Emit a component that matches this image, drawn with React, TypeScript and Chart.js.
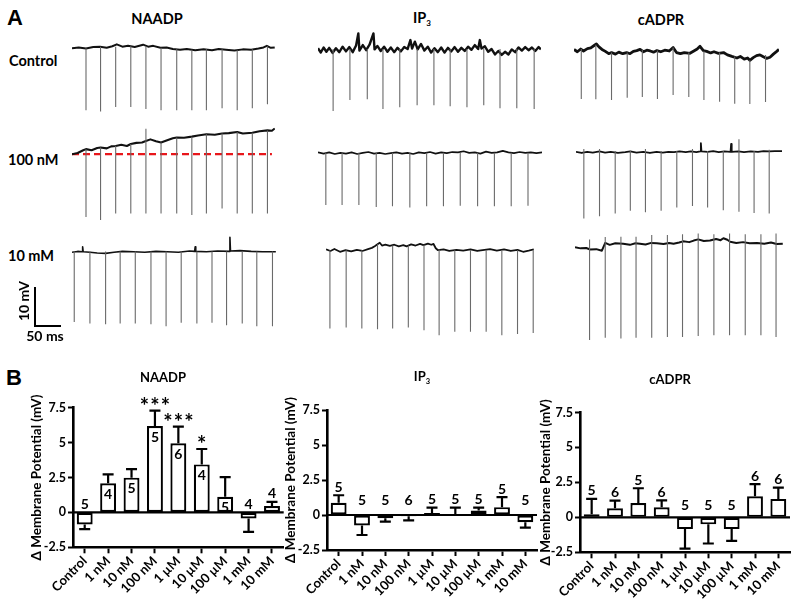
import React, { useEffect, useRef } from 'react';
import { Chart, registerables } from 'chart.js';

Chart.register(...registerables);

const FONT = 'Lato, "Open Sans", sans-serif';

// ---------------- Panel B data ----------------
const DOSES = ['Control', '1 nM', '10 nM', '100 nM', '1 µM', '10 µM', '100 µM', '1 mM', '10 mM'];
const Y_TICKS = [-2.5, 0, 2.5, 5, 7.5];

const NAADP_MEAN = [-0.86, 2.08, 2.49, 6.19, 4.95, 3.44, 1.12, -0.43, 0.45];
const NAADP_SEM = [0.34, 0.64, 0.61, 1.1, 1.19, 1.1, 1.41, 0.96, 0.3];
const NAADP_N = [5, 4, 5, 5, 6, 4, 5, 4, 4];
const NAADP_SIG = ['', '', '', '***', '***', '*', '', '', ''];

const IP3_MEAN = [0.87, -0.75, -0.24, -0.09, 0.14, 0.07, 0.33, 0.56, -0.52];
const IP3_SEM = [0.54, 0.68, 0.23, 0.29, 0.38, 0.45, 0.19, 0.71, 0.38];
const IP3_N = [5, 5, 5, 6, 5, 5, 5, 5, 5];

const CADPR_MEAN = [0.22, 0.65, 1.03, 0.72, -0.84, -0.5, -0.84, 1.51, 1.32];
const CADPR_SEM = [1.1, 0.55, 1.05, 0.5, 1.39, 1.37, 0.84, 0.86, 0.81];
const CADPR_N = [5, 6, 5, 6, 5, 5, 5, 6, 6];

// ---------------- Panel A data (time in ms, potential in mV) ----------------
// baseline: [t, mV]; spikes: [t, top mV, bottom mV]
const NAADP_CTRL_BASE = [[0,0],[12,0.2],[25,-0.1],[38,0.3],[50,0.4],[62,0.1],[72,0.5],[80,1.0],[90,0.4],[100,0.6],[112,0.3],[127,0.9],[136,0.4],[145,0.6],[158,0.1],[169,0.2],[180,-0.2],[193,-0.4],[205,-0.2],[220,-0.5],[235,-0.3],[250,-0.5],[262,-0.2],[275,-0.4],[290,-0.6],[305,-0.3],[320,-0.4],[333,-0.1],[342,0.2],[348,0.6],[355,0.1],[362,0.2]];
const NAADP_CTRL_SPIKES = [[25,0,-15.9],[51,0.4,-16.2],[78,0.4,-15.1],[105,0.5,-15.1],[132,0.5,-15.6],[159,0.1,-15.9],[187,-0.3,-15.9],[214,-0.4,-15.9],[240,-0.3,-15.9],[268,-0.3,-15.4],[295,-0.5,-15.9],[322,-0.3,-15.4],[349,0.5,-14.4]];

const NAADP_100N_BASE = [[0,0],[10,0.3],[20,1.0],[25,1.3],[35,1.0],[45,1.6],[51,1.7],[62,1.5],[70,2.0],[78,2.1],[88,2.4],[98,2.1],[105,2.6],[115,2.9],[125,3.0],[132,3.4],[140,3.8],[150,3.3],[159,3.0],[170,3.6],[180,4.1],[187,4.3],[200,4.2],[214,4.5],[225,4.8],[240,5.1],[255,5.0],[268,5.3],[280,5.4],[295,5.7],[305,5.3],[322,5.5],[335,5.9],[349,6.1],[357,6.0],[362,6.6]];
const NAADP_100N_SPIKES = [[25,1.3,-16.1],[51,1.7,-16.9],[78,2.1,-15.2],[105,2.6,-15.2],[132,6.5,-15.2],[159,3.0,-15.2],[187,4.3,-15.2],[214,4.5,-15.6],[240,5.1,-15.2],[268,5.3,-13.9],[295,5.7,-15.2],[322,5.5,-15.2],[349,6.1,-15.2]];
const NAADP_100N_REF_T = [0, 357];
const NAADP_100N_REF_V = [0, 0];

const NAADP_10M_BASE = [[0,0],[10,0.2],[18,0.1],[19,1.4],[20,0.1],[32,0.0],[45,-0.2],[60,-0.3],[75,0.0],[90,0.2],[110,0.1],[130,0.0],[150,0.2],[170,0.1],[190,0.0],[210,0.3],[219,0.2],[220,1.4],[221,0.2],[240,0.1],[260,0.3],[281,0.2],[282,3.8],[283,0.3],[300,0.4],[320,0.2],[340,0.1],[364,0.1]];
const NAADP_10M_SPIKES = [[4,0.2,-17.9],[32,0.2,-18.3],[60,0.2,-18.5],[86,0.2,-18.3],[113,0.2,-18.3],[141,0.2,-18.5],[168,0.2,-19.0],[195,0.2,-18.1],[223,0.2,-18.3],[250,0.2,-18.1],[276,0.2,-18.7],[304,0.2,-18.3],[330,0.2,-19.0],[358,0.2,-19.0]];

const IP3_CTRL_BASE = [[0,0.5],[5,-0.6],[10,0.7],[15,-0.4],[20,0.6],[26,-0.7],[32,0.5],[38,-0.5],[44,0.9],[50,-0.3],[56,0.8],[62,-0.5],[68,1.2],[72,4.3],[74,-0.1],[80,1.3],[86,0.0],[92,1.4],[99,4.3],[101,0.2],[106,1.1],[112,-0.2],[118,0.9],[124,-0.4],[130,0.7],[136,-0.5],[142,0.6],[148,-0.3],[154,0.8],[160,0.3],[165,2.6],[168,0.4],[173,2.2],[178,0.2],[184,1.6],[190,-0.1],[196,0.9],[202,-0.6],[208,0.5],[214,-0.5],[220,0.7],[226,-0.6],[232,0.6],[238,-0.3],[244,0.8],[250,-0.4],[256,0.6],[262,-0.2],[268,0.9],[274,0.1],[280,1.3],[286,0.3],[289,2.6],[292,0.4],[298,1.0],[304,-0.4],[310,0.3],[316,-1.1],[322,-0.2],[328,-1.2],[334,-0.4],[340,-1.1],[346,0.2],[352,-0.5],[358,0.7],[364,-0.1],[370,0.8],[376,0.0],[382,0.7],[388,-0.2],[394,0.8],[398,0.2]];
const IP3_CTRL_SPIKES = [[27,0.3,-15.6],[57,0.3,-12.8],[88,0.3,-12.6],[116,0.3,-15.1],[146,0.3,-14.6],[177,0.3,-14.1],[207,0.3,-14.1],[236,0.3,-14.4],[266,0.3,-14.6],[296,0.3,-14.1],[325,0.3,-14.9],[355,0.3,-14.9],[386,0.3,-15.1]];

const IP3_100N_BASE = [[0,0.2],[10,-0.1],[20,0.2],[30,-0.2],[40,0.1],[50,-0.1],[60,0.2],[70,-0.2],[80,0.1],[90,0.3],[100,-0.1],[110,0.1],[120,-0.2],[130,0.0],[140,0.2],[150,-0.1],[160,0.1],[170,-0.2],[180,0.2],[190,0.0],[200,0.3],[210,-0.1],[220,0.2],[230,0.0],[240,0.3],[250,0.2],[260,0.5],[270,0.1],[280,0.2],[290,-0.1],[300,0.4],[310,0.1],[320,0.2],[330,0.6],[340,0.2],[350,0.0],[360,0.3],[370,0.1],[380,0.2],[390,0.0],[400,0.2]];
const IP3_100N_SPIKES = [[14,0.1,-13.3],[43,0.1,-13.3],[73,0.1,-13.3],[104,0.1,-13.8],[133,0.1,-13.6],[164,0.1,-13.9],[194,0.1,-13.6],[224,0.1,-13.6],[254,0.1,-13.5],[285,0.1,-13.6],[315,0.1,-13.6],[345,0.1,-13.6],[375,0.1,-13.5]];

const IP3_10M_BASE = [[0,0.2],[8,-0.2],[15,0.3],[25,-0.4],[35,0.0],[45,-0.3],[55,0.1],[65,-0.2],[75,0.3],[82,0.6],[87,1.0],[92,1.5],[96,1.9],[100,1.2],[106,1.4],[114,1.1],[122,1.4],[130,1.0],[138,1.3],[144,1.0],[152,1.5],[160,1.2],[168,1.6],[174,1.3],[182,1.7],[188,1.4],[192,1.6],[196,0.5],[200,0.0],[210,0.2],[220,-0.2],[233,0.1],[245,-0.1],[258,0.2],[270,-0.2],[283,0.1],[293,0.3],[305,-0.1],[318,0.2],[330,-0.2],[342,0.1],[352,-0.4],[362,-0.1],[371,0.2]];
const IP3_10M_SPIKES = [[7,0.0,-20.1],[36,0.0,-19.8],[64,0.0,-20.1],[92,1.5,-20.3],[119,1.2,-20.1],[147,1.2,-19.8],[175,1.4,-20.5],[202,0.2,-21.8],[230,0.0,-20.9],[258,0.0,-20.9],[286,0.0,-20.9],[314,0.0,-21.8],[342,0.0,-21.5],[370,0.0,-21.2]];

const CADPR_CTRL_BASE = [[0,0.2],[6,-0.4],[12,0.3],[17,-0.2],[24,0.4],[30,0.6],[36,1.2],[40,1.6],[45,0.8],[50,0.2],[56,-0.3],[62,-0.9],[67,-0.6],[74,-1.0],[80,-0.5],[87,-0.9],[94,-0.6],[100,-0.9],[106,-0.3],[112,-0.1],[118,0.2],[124,-0.4],[130,0.0],[136,-0.2],[142,-0.5],[148,-0.1],[155,-0.4],[162,0.0],[170,-0.2],[177,0.7],[183,-0.6],[190,-0.9],[197,-0.6],[207,-0.8],[214,-0.2],[220,0.3],[225,1.0],[231,-0.1],[237,-0.3],[244,-0.7],[250,-0.4],[258,-0.8],[267,-0.6],[274,-1.2],[282,-1.6],[291,-2.0],[297,-1.6],[304,-2.3],[310,-2.0],[314,-2.6],[320,-1.9],[326,-1.4],[332,-1.2],[338,-1.7],[344,-2.1],[350,-1.8],[356,-1.0],[362,-0.3],[366,0.2]];
const CADPR_CTRL_SPIKES = [[13,0.3,-12.5],[39,1.4,-12.6],[67,-0.6,-12.8],[95,-0.6,-12.2],[122,0.2,-12.0],[149,-0.1,-12.5],[177,0.7,-11.5],[205,-0.6,-12.0],[232,-0.3,-12.8],[260,-0.6,-13.2],[287,-1.6,-13.7],[314,-2.6,-13.8],[342,-1.2,-13.3]];

const CADPR_100N_BASE = [[0,0.1],[10,-0.2],[20,0.1],[30,-0.1],[42,0.2],[52,-0.1],[62,0.1],[75,-0.2],[88,0.0],[97,0.2],[108,-0.1],[120,0.1],[132,-0.2],[144,0.1],[155,-0.1],[165,0.1],[175,0.0],[185,0.2],[196,0.0],[205,0.2],[215,0.0],[222,0.2],[223,2.3],[224,0.2],[235,0.1],[245,0.3],[255,0.0],[265,0.2],[276,0.1],[277,2.1],[278,0.1],[290,0.2],[300,0.0],[312,0.2],[325,0.1],[335,0.3],[345,0.2],[355,0.3],[368,0.3]];
const CADPR_100N_SPIKES = [[14,0.8,-17.0],[42,0.8,-16.4],[70,0.3,-15.7],[97,0.3,-15.0],[124,0.8,-15.4],[152,0.3,-15.0],[180,0.3,-14.2],[208,0.8,-13.8],[235,0.3,-14.2],[263,0.3,-14.9],[291,3.3,-15.3],[318,0.3,-15.6],[345,0.6,-15.7]];

const CADPR_10M_BASE = [[0,0.0],[10,-0.3],[20,-0.2],[27,-0.6],[38,-0.5],[48,-0.9],[54,1.1],[62,0.6],[72,1.0],[86,0.9],[98,0.6],[108,1.0],[116,0.9],[126,0.7],[136,1.1],[146,1.0],[158,0.8],[168,1.1],[176,0.9],[186,1.2],[193,1.5],[204,1.3],[212,1.7],[220,2.0],[230,1.6],[241,1.7],[252,2.1],[260,1.8],[265,2.3],[272,1.9],[277,1.4],[288,1.1],[300,1.3],[312,1.0],[325,1.1],[338,0.9],[350,1.2],[360,0.8],[371,0.9]];
const CADPR_10M_SPIKES = [[26,2.0,-23.8],[54,2.6,-23.2],[82,2.7,-23.4],[109,2.7,-23.2],[137,3.1,-23.2],[165,3.1,-23.0],[192,3.3,-23.0],[220,3.5,-22.8],[248,3.3,-22.6],[276,3.5,-22.6],[304,3.3,-22.6],[332,3.3,-22.6],[359,3.5,-23.0]];

// ---------------- layout (pixels) ----------------
const PX_PER_MS = 0.56;
const PX_PER_MV = 3.9;
const Y_MAX_MV = 8;
const TRACE_H = 134;
const PADX = 4;

type TraceSpec = { base: number[][]; spikes: number[][]; dur: number; x0: number; y0: number; lw: number; ref?: boolean };
const TRACES: TraceSpec[] = [
  { base: NAADP_CTRL_BASE, spikes: NAADP_CTRL_SPIKES, dur: 362, x0: 72, y0: 48, lw: 2 },
  { base: NAADP_100N_BASE, spikes: NAADP_100N_SPIKES, dur: 362, x0: 72, y0: 154, lw: 2.1, ref: true },
  { base: NAADP_10M_BASE, spikes: NAADP_10M_SPIKES, dur: 364, x0: 72, y0: 252, lw: 1.6 },
  { base: IP3_CTRL_BASE, spikes: IP3_CTRL_SPIKES, dur: 398, x0: 318, y0: 50, lw: 2.4 },
  { base: IP3_100N_BASE, spikes: IP3_100N_SPIKES, dur: 400, x0: 318, y0: 153, lw: 1.7 },
  { base: IP3_10M_BASE, spikes: IP3_10M_SPIKES, dur: 371, x0: 326, y0: 250, lw: 1.8 },
  { base: CADPR_CTRL_BASE, spikes: CADPR_CTRL_SPIKES, dur: 366, x0: 574, y0: 50, lw: 2.8 },
  { base: CADPR_100N_BASE, spikes: CADPR_100N_SPIKES, dur: 368, x0: 576, y0: 152, lw: 1.8 },
  { base: CADPR_10M_BASE, spikes: CADPR_10M_SPIKES, dur: 371, x0: 575, y0: 247, lw: 2 },
];

function TraceChart({ spec }: { spec: TraceSpec }) {
  const ref = useRef<HTMLCanvasElement>(null);
  const w = Math.round(spec.dur * PX_PER_MS) + 2 * PADX;
  const left = spec.x0 - PADX;
  const top = spec.y0 - Y_MAX_MV * PX_PER_MV;
  useEffect(() => {
    if (!ref.current) return;
    const spikeData: { x: number; y: number | null }[] = [];
    spec.spikes.forEach(([t, hi, lo]) => {
      spikeData.push({ x: t, y: hi }, { x: t, y: lo }, { x: t, y: null });
    });
    const baseData = spec.base.map(([t, v]) => ({ x: t, y: v }));
    const datasets: any[] = [
      { data: spikeData, showLine: true, borderColor: '#6a6a6a', borderWidth: 1.1, pointRadius: 0, spanGaps: false },
      { data: baseData, showLine: true, borderColor: '#111111', borderWidth: spec.lw, pointRadius: 0, borderJoinStyle: 'round' },
    ];
    if (spec.ref) {
      datasets.push({
        data: NAADP_100N_REF_T.map((t, i) => ({ x: t, y: NAADP_100N_REF_V[i] })),
        showLine: true, borderColor: '#e8161b', borderWidth: 2.2, borderDash: [7, 4], pointRadius: 0,
      });
    }
    const chart = new Chart(ref.current, {
      type: 'scatter',
      data: { datasets },
      options: {
        responsive: false,
        animation: false,
        events: [],
        layout: { padding: { left: PADX, right: PADX, top: 0, bottom: 0 } },
        plugins: { legend: { display: false }, tooltip: { enabled: false } },
        scales: {
          x: { type: 'linear', display: false, min: 0, max: (w - 2 * PADX) / PX_PER_MS },
          y: { type: 'linear', display: false, max: Y_MAX_MV, min: Y_MAX_MV - TRACE_H / PX_PER_MV },
        },
      } as any,
    });
    return () => chart.destroy();
  }, []);
  return (
    <canvas ref={ref} width={w} height={TRACE_H}
      style={{ position: 'absolute', left, top, width: w, height: TRACE_H }} />
  );
}

// ---------------- bar charts ----------------
const barAnno = {
  id: 'barAnno',
  afterDatasetsDraw(chart: any, _a: any, o: any) {
    const { ctx, chartArea: a, scales } = chart;
    const y = scales.y;
    const zero = y.getPixelForValue(0);
    ctx.save();
    ctx.strokeStyle = '#000';
    ctx.lineWidth = 2.2;
    ctx.beginPath();
    ctx.moveTo(a.left, zero);
    ctx.lineTo(a.right, zero);
    ctx.stroke();
    const meta = chart.getDatasetMeta(0);
    meta.data.forEach((bar: any, i: number) => {
      const v = o.mean[i];
      const dir = v < 0 ? -1 : 1;
      const yE = y.getPixelForValue(v + dir * o.sem[i]);
      const xc = bar.x;
      const yb = bar.y;
      ctx.lineWidth = 2.2;
      ctx.beginPath();
      ctx.moveTo(xc, yb);
      ctx.lineTo(xc, yE);
      ctx.moveTo(xc - 5.5, yE);
      ctx.lineTo(xc + 5.5, yE);
      ctx.stroke();
      ctx.fillStyle = '#000';
      ctx.font = `bold 14px ${FONT}`;
      ctx.textAlign = 'center';
      ctx.textBaseline = 'middle';
      let ly: number;
      if (o.inside && v > 1) ly = yb + 10;
      else ly = Math.min(zero - o.zeroGap, (v > 0 ? yE : zero) - 9);
      ctx.fillText(String(o.n[i]), xc, ly + 1);
      const s: string = o.sig ? o.sig[i] : '';
      if (s) {
        ctx.font = `bold 22px ${FONT}`;
        ctx.textBaseline = 'alphabetic';
        for (let k = 0; k < s.length; k++) {
          ctx.fillText('*', xc + (k - (s.length - 1) / 2) * 10.5, yE + 3);
        }
      }
    });
    ctx.restore();
  },
};

type BarSpec = {
  mean: number[]; sem: number[]; n: number[]; sig?: string[];
  left: number; width: number; yW: number; padR: number; padT: number; xH: number; titlePad: number;
  inside: boolean; zeroGap: number;
};

const CHART_TOP = 385;
const CHART_H = 224;

function BarChart({ spec }: { spec: BarSpec }) {
  const ref = useRef<HTMLCanvasElement>(null);
  useEffect(() => {
    if (!ref.current) return;
    const chart = new Chart(ref.current, {
      type: 'bar',
      data: {
        labels: DOSES,
        datasets: [{
          data: spec.mean,
          backgroundColor: '#ffffff',
          borderColor: '#000000',
          borderWidth: 2.2,
          borderSkipped: false,
          barPercentage: 0.68,
          categoryPercentage: 1,
        }],
      },
      options: {
        responsive: false,
        animation: false,
        events: [],
        layout: { padding: { left: 0, right: spec.padR, top: spec.padT, bottom: 0 } },
        plugins: {
          legend: { display: false },
          tooltip: { enabled: false },
          barAnno: { mean: spec.mean, sem: spec.sem, n: spec.n, sig: spec.sig, inside: spec.inside, zeroGap: spec.zeroGap },
        },
        scales: {
          x: {
            offset: true,
            grid: { display: true, drawOnChartArea: false, offset: false, tickLength: 6, tickWidth: 2, tickColor: '#000' },
            border: { display: true, color: '#000', width: 2.6 },
            ticks: { color: '#000', font: { family: FONT, weight: 'bold', size: 13 }, minRotation: 45, maxRotation: 45, autoSkip: false, padding: 0 },
            afterFit: (s: any) => { s.height = spec.xH; },
          },
          y: {
            min: -2.5,
            max: 7.5,
            afterBuildTicks: (s: any) => { s.ticks = Y_TICKS.map((v) => ({ value: v })); },
            ticks: { color: '#000', font: { family: FONT, weight: 'bold', size: 12.5 }, padding: 2 },
            grid: { display: true, drawOnChartArea: false, tickLength: 5, tickWidth: 2, tickColor: '#000' },
            border: { display: true, color: '#000', width: 2.6 },
            title: {
              display: true, text: 'Δ Membrane Potential (mV)', color: '#000',
              font: { family: FONT, weight: 'bold', size: 13.5 }, padding: { top: spec.titlePad, bottom: 0 },
            },
            afterFit: (s: any) => { s.width = spec.yW; },
          },
        },
      } as any,
      plugins: [barAnno as any],
    });
    return () => chart.destroy();
  }, []);
  return (
    <canvas ref={ref} width={spec.width} height={CHART_H}
      style={{ position: 'absolute', left: spec.left, top: CHART_TOP, width: spec.width, height: CHART_H }} />
  );
}

const BARS: BarSpec[] = [
  { mean: NAADP_MEAN, sem: NAADP_SEM, n: NAADP_N, sig: NAADP_SIG, left: 0, width: 300, yW: 73, padR: 16.3, padT: 22.7, xH: 61.7, titlePad: 29, inside: true, zeroGap: 9 },
  { mean: IP3_MEAN, sem: IP3_SEM, n: IP3_N, left: 255, width: 300, yW: 72, padR: 18, padT: 25, xH: 59, titlePad: 27.5, inside: false, zeroGap: 16 },
  { mean: CADPR_MEAN, sem: CADPR_SEM, n: CADPR_N, left: 510, width: 290, yW: 70, padR: 10, padT: 27.5, xH: 56.7, titlePad: 27.5, inside: false, zeroGap: 13 },
];

const txt = (x: number, y: number, size: number, extra: any = {}): React.CSSProperties => ({
  position: 'absolute', left: x, top: y, fontSize: size, fontWeight: 700, lineHeight: 1,
  transform: 'translate(-50%,-50%)', whiteSpace: 'nowrap', ...extra,
});
const ltxt = (x: number, y: number, size: number): React.CSSProperties => ({
  position: 'absolute', left: x, top: y, fontSize: size, fontWeight: 700, lineHeight: 1,
  transform: 'translateY(-50%)', whiteSpace: 'nowrap',
});

export default function App() {
  return (
    <div style={{ position: 'absolute', left: 0, top: 0, width: 800, height: 609, background: '#fff', fontFamily: FONT, color: '#000', overflow: 'hidden' }}>
      <div style={{ position: 'absolute', left: 7, top: 7, fontFamily: '"Liberation Sans", Arial, sans-serif', fontWeight: 900, fontSize: 22, lineHeight: '22px' }}>A</div>
      <div style={{ position: 'absolute', left: 6, top: 367, fontFamily: '"Liberation Sans", Arial, sans-serif', fontWeight: 900, fontSize: 22, lineHeight: '22px' }}>B</div>

      <div style={txt(157, 19, 14.5)}>NAADP</div>
      <div style={txt(422, 19, 14.5)}>IP<sub style={{ fontSize: 8, verticalAlign: -3 }}>3</sub></div>
      <div style={txt(661, 19.5, 14.5)}>cADPR</div>

      <div style={ltxt(9, 60.5, 14.5)}>Control</div>
      <div style={ltxt(8, 160, 14.5)}>100 nM</div>
      <div style={ltxt(8, 256, 14.5)}>10 mM</div>

      {TRACES.map((t, i) => <TraceChart key={i} spec={t} />)}

      {/* scale bar */}
      <div style={{ position: 'absolute', left: 33.5, top: 286.5, width: 2.5, height: 40.5, background: '#000' }} />
      <div style={{ position: 'absolute', left: 33.5, top: 324.5, width: 27.5, height: 2.5, background: '#000' }} />
      <div style={txt(23.5, 301, 14, { transform: 'translate(-50%,-50%) rotate(-90deg)' })}>10 mV</div>
      <div style={txt(45, 335.5, 14)}>50 ms</div>

      <div style={txt(163, 377, 13)}>NAADP</div>
      <div style={txt(422, 378, 13)}>IP<sub style={{ fontSize: 7.5, verticalAlign: -3 }}>3</sub></div>
      <div style={txt(670, 379, 13)}>cADPR</div>

      {BARS.map((b, i) => <BarChart key={i} spec={b} />)}
    </div>
  );
}
